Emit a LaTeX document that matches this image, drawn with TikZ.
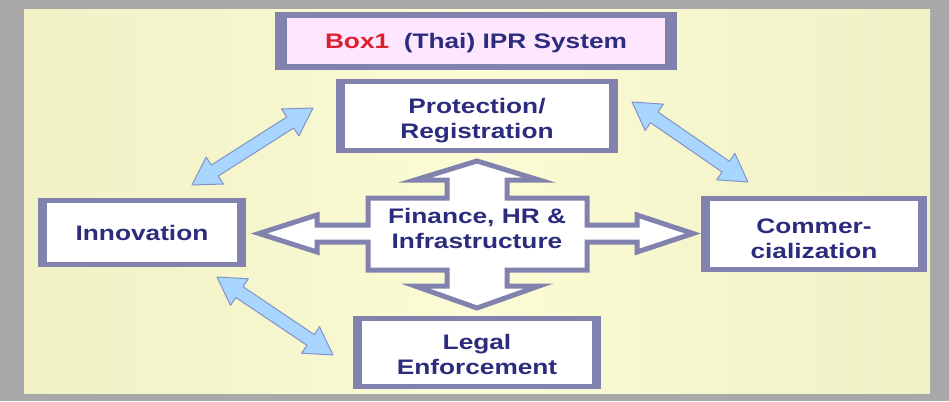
\documentclass[tikz,border=0pt]{standalone}
\usepackage{fontspec}
\newfontfamily\boxfont{Liberation Sans}[FakeStretch=1.25]
\usetikzlibrary{calc,backgrounds}
\definecolor{bcol}{HTML}{8282AE}
\definecolor{txt}{HTML}{2C2C7E}
\definecolor{redt}{HTML}{DD2030}
\definecolor{pinkf}{HTML}{FFE6FF}
\definecolor{blf}{HTML}{A9D6FF}
\definecolor{bld}{HTML}{8092C8}
\definecolor{framecol}{HTML}{A8A8A8}
\definecolor{yelL}{HTML}{F1F1C6}
\definecolor{yelM}{HTML}{FBFBD5}
\tikzset{
  box/.style={fill=white, inner sep=0pt, align=center, text=txt,
    font=\boxfont\bfseries\fontsize{21}{25}\selectfont},
  bluearrow/.style={fill=blf, draw=bld, line width=1pt, line join=round},
  crossline/.style={fill=white, draw=bcol, line width=5pt, line join=miter}
}
\newcommand\dn[1]{\rule{0pt}{#1}}
\newcommand\dblarrowAB[2]{%
\draw[bluearrow] (#1) -- ($(#1)!27pt!(#2)!16pt!90:(#2)$) -- ($(#1)!27pt!(#2)!6.5pt!90:(#2)$)
 -- ($(#2)!27pt!(#1)!6.5pt!-90:(#1)$) -- ($(#2)!27pt!(#1)!16pt!-90:(#1)$) -- (#2)
 -- ($(#2)!27pt!(#1)!16pt!90:(#1)$) -- ($(#2)!27pt!(#1)!6.5pt!90:(#1)$)
 -- ($(#1)!27pt!(#2)!6.5pt!-90:(#2)$) -- ($(#1)!27pt!(#2)!16pt!-90:(#2)$) -- cycle;}
\begin{document}
\begin{tikzpicture}[x=1pt,y=-1pt]
\useasboundingbox (0,0) rectangle (949,401);
% boxes
\node[box, fill=pinkf, minimum width=378pt, minimum height=46pt] (title) at (476,41)
  {\dn{20pt}\textcolor{redt}{Box1}\ \ (Thai) IPR System};
\node[box, minimum width=264pt, minimum height=64pt] (prot) at (477,116) {\dn{25pt}Protection/\\Registration};
\node[box, minimum width=190pt, minimum height=59pt] (inno) at (142,232.5) {Innovation};
\node[box, minimum width=208pt, minimum height=66pt] (comm) at (814,234) {\dn{25pt}Commer-\\cialization};
\node[box, minimum width=230pt, minimum height=63pt] (legal) at (477,352.5) {\dn{20pt}Legal\\Enforcement};
% central cross
\draw[crossline] (477,161) -- (539,180) -- (507,180) -- (507,198) -- (587,198) -- (587,225)
  -- (637,225) -- (637,215) -- (693,233.5) -- (637,252) -- (637,242) -- (587,242)
  -- (587,270) -- (507,270) -- (507,286) -- (539,286) -- (477,308) -- (415,286)
  -- (447,286) -- (447,270) -- (368,270) -- (368,242) -- (317,242) -- (317,252)
  -- (259,233.5) -- (317,215) -- (317,225) -- (368,225) -- (368,198) -- (447,198)
  -- (447,180) -- (415,180) -- cycle;
\node[box, fill=none] (fin) at (477,228) {Finance, HR \&\\Infrastructure};
% blue double arrows
\coordinate (a1) at (192,185); \coordinate (a2) at (313,108);
\coordinate (b1) at (632,102); \coordinate (b2) at (748,182);
\coordinate (c1) at (217,277); \coordinate (c2) at (333,355);
\dblarrowAB{a1}{a2}
\dblarrowAB{b1}{b2}
\dblarrowAB{c1}{c2}
\begin{scope}[on background layer]
\fill[framecol] (0,0) rectangle (949,401);
\shade[left color=yelL, right color=yelL, middle color=yelM] (24,10) rectangle (930,393);
\fill[bcol] ([xshift=-12pt,yshift=6pt]title.north west) rectangle ([xshift=12pt,yshift=-6pt]title.south east);
\foreach \n in {prot,inno,comm,legal}
  \fill[bcol] ([xshift=-8.5pt,yshift=5pt]\n.north west) rectangle ([xshift=8.5pt,yshift=-5pt]\n.south east);
\end{scope}
\end{tikzpicture}
\end{document}
